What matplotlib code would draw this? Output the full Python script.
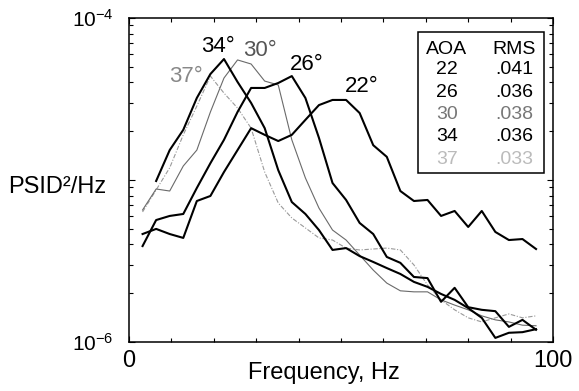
import matplotlib
matplotlib.use("Agg")
import matplotlib.pyplot as plt
import numpy as np
from matplotlib.patches import Rectangle
from matplotlib.ticker import MultipleLocator, FixedLocator, LogLocator, NullFormatter

plt.rcParams['font.family'] = ['Liberation Sans', 'DejaVu Sans']
plt.rcParams['mathtext.fontset'] = 'custom'
plt.rcParams['mathtext.rm'] = 'Liberation Sans'
plt.rcParams['mathtext.it'] = 'Liberation Sans:italic'

# Spectral lines, Hz
freq_hz = [3.2, 6.4, 9.6, 12.8, 16.0, 19.2, 22.4, 25.6, 28.8, 32.0,
           35.2, 38.4, 41.6, 44.8, 48.0, 51.2, 54.4, 57.6, 60.8, 64.0,
           67.2, 70.4, 73.6, 76.8, 80.0, 83.2, 86.4, 89.6, 92.8, 96.0]

# Power spectral density, PSID^2/Hz, one array per angle of attack
psd_22 = [4.64e-6, 4.99e-6, 4.64e-6, 4.39e-6, 7.42e-6, 7.97e-6, 1.12e-5, 1.53e-5, 2.09e-5, 1.90e-5,
          1.74e-5, 1.90e-5, 2.35e-5, 2.90e-5, 3.12e-5, 3.12e-5, 2.59e-5, 1.64e-5, 1.39e-5, 8.55e-6,
          7.42e-6, 7.53e-6, 6.00e-6, 6.44e-6, 5.13e-6, 6.44e-6, 4.78e-6, 4.26e-6, 4.32e-6, 3.75e-6]
psd_26 = [3.91e-6, 5.66e-6, 6.00e-6, 6.17e-6, 8.93e-6, 1.27e-5, 1.77e-5, 2.63e-5, 3.70e-5, 3.70e-5,
          3.97e-5, 4.38e-5, 3.21e-5, 1.82e-5, 9.58e-6, 7.53e-6, 5.43e-6, 4.64e-6, 3.35e-6, 3.08e-6,
          2.52e-6, 2.48e-6, 1.77e-6, 2.16e-6, 1.64e-6, 1.58e-6, 1.55e-6, 1.24e-6, 1.37e-6, 1.19e-6]
psd_30 = [6.53e-6, 8.80e-6, 8.55e-6, 1.22e-5, 1.53e-5, 2.63e-5, 4.26e-5, 5.51e-5, 5.20e-5, 4.08e-5,
          3.86e-5, 1.77e-5, 1.03e-5, 6.71e-6, 4.91e-6, 4.26e-6, 3.44e-6, 2.78e-6, 2.31e-6, 2.07e-6,
          2.04e-6, 2.04e-6, 1.82e-6, 1.69e-6, 1.58e-6, 1.45e-6, 1.37e-6, 1.33e-6, 1.27e-6, 1.26e-6]
psd_34 = [np.nan, 9.86e-6, 1.53e-5, 2.04e-5, 3.21e-5, 4.51e-5, 5.58e-5, 4.03e-5, 2.99e-5, 2.09e-5,
          1.15e-5, 7.31e-6, 6.17e-6, 4.91e-6, 3.70e-6, 3.80e-6, 3.39e-6, 3.12e-6, 2.86e-6, 2.63e-6,
          2.35e-6, 2.19e-6, 1.98e-6, 1.82e-6, 1.62e-6, 1.41e-6, 1.06e-6, 1.14e-6, 1.15e-6, 1.20e-6]
psd_37 = [6.35e-6, 8.68e-6, 1.19e-5, 1.90e-5, 2.86e-5, 4.38e-5, 3.44e-5, 2.78e-5, 2.09e-5, 1.12e-5,
          7.21e-6, 5.83e-6, 5.06e-6, 4.39e-6, 4.26e-6, 3.80e-6, 3.70e-6, 3.75e-6, 3.80e-6, 3.70e-6,
          2.99e-6, 2.25e-6, 1.82e-6, 1.58e-6, 1.41e-6, 1.33e-6, 1.41e-6, 1.49e-6, 1.41e-6, 1.45e-6]

aoa_labels = ['22', '26', '30', '34', '37']
rms_values = ['.041', '.036', '.038', '.036', '.033']

W, H = 579, 391
fig = plt.figure(figsize=(W / 100, H / 100), dpi=100)
ax = fig.add_axes([129 / W, 1 - 342 / H, (553 - 129) / W, (342 - 18) / H])

thick = dict(color='black', lw=1.5)
ax.plot(freq_hz, psd_37, color='#9a9a9a', lw=0.8, linestyle=(0, (4, 1.5, 1, 1.5)))
ax.plot(freq_hz, psd_30, color='#6a6a6a', lw=0.8)
ax.plot(freq_hz, psd_22, **thick)
ax.plot(freq_hz, psd_26, **thick)
ax.plot(freq_hz, psd_34, **thick)

ax.set_yscale('log')
ax.set_xlim(0, 100)
ax.set_ylim(1e-6, 1e-4)

ax.xaxis.set_major_locator(FixedLocator([0, 100]))
ax.xaxis.set_minor_locator(MultipleLocator(10))
ax.set_xticklabels(['0', '100'])
ax.yaxis.set_major_locator(FixedLocator([1e-6, 1e-5, 1e-4]))
ax.set_yticklabels([r'$10^{-6}$', '', r'$10^{-4}$'])
ax.yaxis.set_minor_locator(LogLocator(base=10, subs=np.arange(2, 10)))
ax.yaxis.set_minor_formatter(NullFormatter())

ax.tick_params(which='both', direction='in', top=True, right=True, width=0.8)
ax.tick_params(which='major', length=4)
ax.tick_params(axis='x', which='major', pad=6, labelsize=17)
ax.tick_params(axis='y', which='major', pad=11, labelsize=15)
ax.tick_params(which='minor', length=3)
for s in ax.spines.values():
    s.set_linewidth(1.1)

fig.text(248 / W, 1 - 373 / H, 'Frequency, Hz', fontsize=17, ha='left', va='center')
fig.text(8 / W, 1 - 187 / H, 'PSID\u00b2/Hz', fontsize=17, ha='left', va='center')

# Angle-of-attack labels near the spectral peaks
peak_labels = [('34\u00b0', 218, 47, 'black'), ('30\u00b0', 260, 50, '#555555'),
               ('37\u00b0', 186, 76, '#888888'), ('26\u00b0', 307, 65, 'black'),
               ('22\u00b0', 362, 87, 'black')]
for txt, px, py, col in peak_labels:
    fig.text(px / W, 1 - py / H, txt, fontsize=16, color=col, ha='center', va='center')

# AOA / RMS table
fig.add_artist(Rectangle((418 / W, 1 - 173 / H), 126 / W, 141 / H, transform=fig.transFigure,
                         fill=False, edgecolor='black', lw=1.1))
fig.text(447 / W, 1 - 50 / H, 'AOA', fontsize=14, ha='center', va='center')
fig.text(514 / W, 1 - 50 / H, 'RMS', fontsize=14, ha='center', va='center')
row_colors = ['black', 'black', '#777777', 'black', '#bbbbbb']
for i, (a, r) in enumerate(zip(aoa_labels, rms_values)):
    y = 70 + 22.3 * i
    fig.text(447 / W, 1 - y / H, a, fontsize=14, ha='center', va='center', color=row_colors[i])
    fig.text(514 / W, 1 - y / H, r, fontsize=14, ha='center', va='center', color=row_colors[i])

fig.savefig('out.png', dpi=100)
